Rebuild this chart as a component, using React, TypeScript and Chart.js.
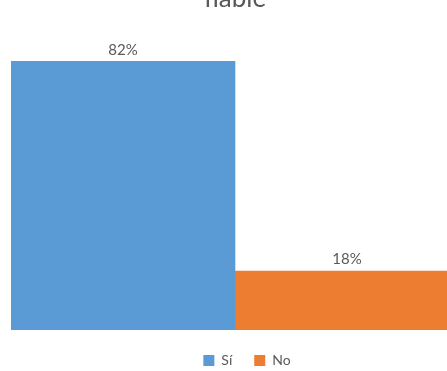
import React, { useEffect, useRef } from "react";
import { Chart, registerables } from "chart.js";

Chart.register(...registerables);

const titleText = "fiable";
const categories = [""];
const seriesNames = ["Sí", "No"];
const seriesValues = [82, 18];
const seriesColors = ["#5B9BD5", "#ED7D31"];

const textColor = "#595959";
const fontFamily = "Lato, 'Open Sans', sans-serif";

const valueLabels = {
  id: "valueLabels",
  afterDatasetsDraw(chart: any) {
    const ctx = chart.ctx;
    ctx.save();
    ctx.fillStyle = textColor;
    ctx.font = `15px ${fontFamily}`;
    ctx.textAlign = "center";
    ctx.textBaseline = "bottom";
    chart.data.datasets.forEach((ds: any, i: number) => {
      const meta = chart.getDatasetMeta(i);
      meta.data.forEach((bar: any, j: number) => {
        ctx.fillText(`${ds.data[j]}%`, bar.x, bar.y - 4);
      });
    });
    ctx.restore();
  },
};

const legendShift = {
  id: "legendShift",
  afterLayout(chart: any) {
    const lg = chart.legend;
    if (!lg) return;
    lg.left += 12;
    lg.right += 12;
    lg.top += 1.5;
    lg.bottom += 1.5;
  },
};

export default function App() {
  const ref = useRef<HTMLCanvasElement>(null);
  useEffect(() => {
    if (!ref.current) return;
    const chart = new Chart(ref.current, {
      type: "bar",
      data: {
        labels: categories,
        datasets: seriesNames.map((name, i) => ({
          label: name,
          data: [seriesValues[i]],
          backgroundColor: seriesColors[i],
          borderWidth: 0,
          categoryPercentage: 1,
          barPercentage: 1,
        })),
      },
      options: {
        responsive: false,
        animation: false,
        layout: { padding: { left: 11, right: 0, top: 0, bottom: 0 } },
        scales: {
          x: { display: false },
          y: { display: false, min: 0, max: 90 },
        },
        plugins: {
          tooltip: { enabled: false },
          title: {
            display: true,
            text: titleText,
            color: textColor,
            font: { family: fontFamily, size: 26, weight: "normal" },
            padding: { top: 0, bottom: 20.8 },
          },
          legend: {
            position: "bottom",
            labels: {
              boxWidth: 11,
              boxHeight: 11,
              padding: 22,
              color: textColor,
              font: { family: fontFamily, size: 14 },
            },
          },
        },
      },
      plugins: [valueLabels, legendShift],
    });
    return () => chart.destroy();
  }, []);
  return (
    <div
      style={{
        position: "absolute",
        left: 0,
        top: 0,
        width: 447,
        height: 371,
        overflow: "hidden",
        background: "#fff",
      }}
    >
      <div style={{ position: "absolute", left: 0, top: -17 }}>
        <canvas ref={ref} width={459} height={393} style={{ display: "block" }} />
      </div>
    </div>
  );
}
